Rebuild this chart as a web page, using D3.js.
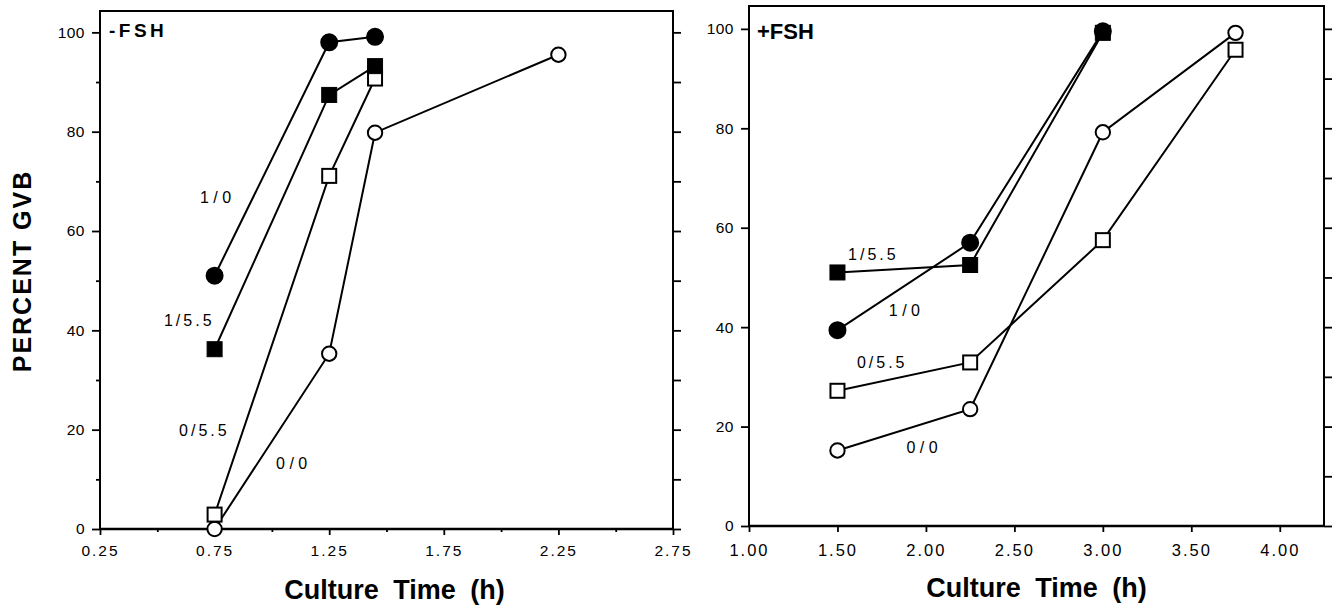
<!DOCTYPE html>
<html><head><meta charset="utf-8">
<script src="https://cdn.jsdelivr.net/npm/d3@7"></script>
<style>
body{margin:0;background:#fff;}
svg{display:block;}
text{font-family:"Liberation Sans",Arial,Helvetica,sans-serif;fill:#000;}
</style></head><body>
<svg id="chart" width="1335" height="606"></svg>
<script>
// ---------- data ----------
const leftMajorX = [0.25,0.75,1.25,1.75,2.25,2.75];
const leftMinorX = [0.5,1.0,1.5,2.0,2.5];
const rightMajorX = [1.0,1.5,2.0,2.5,3.0,3.5,4.0];
const yMajor = [0,20,40,60,80,100];
const yMinor = [10,30,50,70,90];
const yAll = [0,10,20,30,40,50,60,70,80,90,100];

const leftTime3 = [0.75,1.25,1.45];
const leftTime4 = [0.75,1.25,1.45,2.25];
const left_1_0  = [51.0,98.0,99.1];
const left_1_55 = [36.2,87.4,93.2];
const left_0_55 = [2.9,71.1,90.7];
const left_0_0  = [0,35.3,79.8,95.5];

const rightTime3 = [1.5,2.25,3.0];
const rightTime4 = [1.5,2.25,3.0,3.75];
const right_1_0  = [39.4,57.0,99.5];
const right_1_55 = [51.0,52.5,99.2];
const right_0_55 = [27.2,32.9,57.5,95.8];
const right_0_0  = [15.2,23.5,79.2,99.2];

const seriesNames = ["1/0","1/5.5","0/5.5","0/0"];
const panelTitles = ["-FSH","+FSH"];
const yTitle = "PERCENT GVB";
const xTitle = "Culture Time (h)";

// ---------- drawing ----------
const svg = d3.select("#chart");

function zip(xs, ys){ return xs.map((x,i)=>[x, ys[i]]); }

function panel(cfg){
  const g = svg.append("g");
  const x = d3.scaleLinear().domain(cfg.xDomain).range(cfg.xRange);
  const y = d3.scaleLinear().domain(cfg.yDomain).range(cfg.yRange);

  const bMaj = g.append("g").attr("transform",`translate(0,${cfg.yRange[0]})`)
    .call(d3.axisBottom(x).tickValues(cfg.xMajor).tickSize(6).tickPadding(cfg.xPad).tickFormat(d3.format(".2f")));
  bMaj.selectAll("text").style("font-size",cfg.xFont+"px").style("letter-spacing",cfg.xLs+"px");
  if (cfg.xMinor) {
    g.append("g").attr("transform",`translate(0,${cfg.yRange[0]})`)
      .call(d3.axisBottom(x).tickValues(cfg.xMinor).tickSize(3).tickFormat(""));
  }
  const lMaj = g.append("g").attr("transform",`translate(${cfg.xRange[0]},0)`)
    .call(d3.axisLeft(y).tickValues(yMajor).tickSize(8).tickPadding(7).tickFormat(d3.format("d")));
  lMaj.selectAll("text").style("font-size",cfg.yFont+"px").style("letter-spacing","0.5px");
  if (cfg.leftMinor) {
    g.append("g").attr("transform",`translate(${cfg.xRange[0]},0)`)
      .call(d3.axisLeft(y).tickValues(yMinor).tickSize(4).tickFormat(""));
  }
  g.append("g").attr("transform",`translate(${cfg.xRange[1]},0)`)
    .call(d3.axisRight(y).tickValues(yAll).tickSize(8).tickFormat(""));

  g.selectAll(".domain").remove();
  g.selectAll(".tick line").attr("stroke","#000").attr("stroke-width",1.8);

  g.append("rect")
    .attr("x",cfg.xRange[0]).attr("y",cfg.yRange[1])
    .attr("width",cfg.xRange[1]-cfg.xRange[0]).attr("height",cfg.yRange[0]-cfg.yRange[1])
    .attr("fill","none").attr("stroke","#000").attr("stroke-width",2);
  g.append("line")
    .attr("x1",cfg.xRange[0]).attr("x2",cfg.xRange[1])
    .attr("y1",cfg.yRange[0]).attr("y2",cfg.yRange[0])
    .attr("stroke","#000").attr("stroke-width",2.6);

  const line = d3.line().x(d=>x(d[0])).y(d=>y(d[1]));
  cfg.series.forEach(s=>{
    g.append("path").datum(s.pts).attr("d",line)
      .attr("fill","none").attr("stroke","#000").attr("stroke-width",2);
  });
  cfg.series.slice().sort((a,b)=>a.order-b.order).forEach(s=>{
    const fill = s.filled ? "#000" : "#fff";
    if (s.shape==="circle") {
      g.selectAll(null).data(s.pts).enter().append("circle")
        .attr("cx",d=>x(d[0])).attr("cy",d=>y(d[1]))
        .attr("r", s.filled ? 8 : 7.2)
        .attr("fill",fill).attr("stroke","#000").attr("stroke-width",2);
    } else {
      const h = s.filled ? 7.5 : 7;
      g.selectAll(null).data(s.pts).enter().append("rect")
        .attr("x",d=>x(d[0])-h).attr("y",d=>y(d[1])-h)
        .attr("width",2*h).attr("height",2*h)
        .attr("fill",fill).attr("stroke","#000").attr("stroke-width",s.filled?1:2);
    }
  });
  cfg.labels.forEach(l=>{
    g.append("text").attr("x",x(l.x)).attr("y",y(l.y))
      .style("font-size","16px").style("letter-spacing",l.ls+"px")
      .text(l.text);
  });
  g.append("text").attr("x",cfg.titlePos[0]).attr("y",cfg.titlePos[1])
    .style("font-size",cfg.titleFont+"px").style("font-weight","bold")
    .style("letter-spacing",cfg.titleLs+"px").text(cfg.title);
  g.append("text").attr("x",(cfg.xRange[0]+cfg.xRange[1])/2 + cfg.xTitleShift).attr("y",cfg.xTitleY)
    .attr("text-anchor","middle")
    .style("font-size","27px").style("font-weight","bold").style("word-spacing","7px")
    .text(xTitle);
  return {x,y};
}

panel({
  xDomain:[0.25,2.75], xRange:[100,673],
  yDomain:[0,104.3], yRange:[529,11],
  xMajor:leftMajorX, xMinor:leftMinorX, xPad:10, xFont:15.5, xLs:2, yFont:15.5,
  leftMinor:true,
  series:[
    {pts:zip(leftTime3,left_1_0), shape:"circle", filled:true, order:3},
    {pts:zip(leftTime3,left_1_55), shape:"square", filled:true, order:4},
    {pts:zip(leftTime3,left_0_55), shape:"square", filled:false, order:2},
    {pts:zip(leftTime4,left_0_0), shape:"circle", filled:false, order:1}
  ],
  labels:[
    {text:seriesNames[0], x:0.686, y:65.7, ls:4.5},
    {text:seriesNames[1], x:0.529, y:40.9, ls:3},
    {text:seriesNames[2], x:0.595, y:18.7, ls:3},
    {text:seriesNames[3], x:1.018, y:12.1, ls:4.5}
  ],
  title:panelTitles[0], titlePos:[109,37], titleFont:19, titleLs:3.5,
  xTitleShift:8, xTitleY:599
});

panel({
  xDomain:[1.0,4.25], xRange:[749,1324],
  yDomain:[0,104.6], yRange:[526,6],
  xMajor:rightMajorX, xMinor:null, xPad:12, xFont:16.5, xLs:2, yFont:15.5,
  leftMinor:false,
  series:[
    {pts:zip(rightTime3,right_1_0), shape:"circle", filled:true, order:3},
    {pts:zip(rightTime3,right_1_55), shape:"square", filled:true, order:4},
    {pts:zip(rightTime4,right_0_55), shape:"square", filled:false, order:2},
    {pts:zip(rightTime4,right_0_0), shape:"circle", filled:false, order:1}
  ],
  labels:[
    {text:seriesNames[1], x:1.56, y:53.5, ls:3},
    {text:seriesNames[0], x:1.79, y:42.3, ls:4.5},
    {text:seriesNames[2], x:1.61, y:31.8, ls:3},
    {text:seriesNames[3], x:1.89, y:14.7, ls:4.5}
  ],
  title:panelTitles[1], titlePos:[757,39], titleFont:22, titleLs:0,
  xTitleShift:0, xTitleY:597
});

svg.append("text")
  .attr("transform","translate(31,271) rotate(-90)")
  .attr("text-anchor","middle")
  .style("font-size","25px").style("font-weight","bold").style("letter-spacing","2px")
  .text(yTitle);
</script>
</body></html>
